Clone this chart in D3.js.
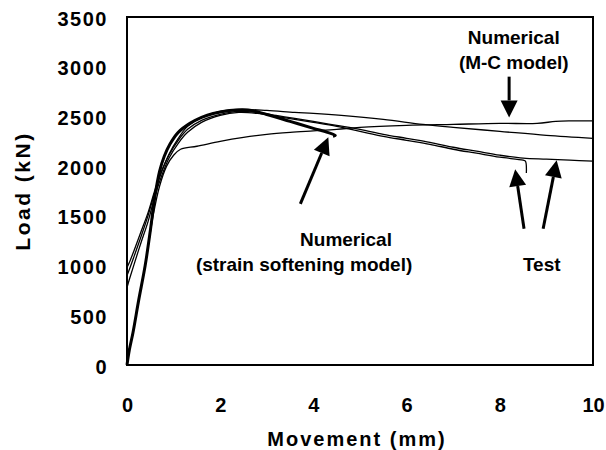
<!DOCTYPE html>
<html>
<head>
<meta charset="utf-8">
<script src="https://cdn.jsdelivr.net/npm/d3@7"></script>
<style>
  html, body { margin: 0; padding: 0; background: #fff; }
  svg { display: block; }
  text { font-family: Arial, "Liberation Sans", Helvetica, sans-serif; font-weight: bold; fill: #000; }
</style>
</head>
<body>
<script>
// Load-movement curves: two tests, a third test trace and two numerical models
const movementTest1 = [0, 0.05, 0.15, 0.3, 0.45, 0.6, 0.75, 0.9, 1.1, 1.3, 1.6, 2.0, 2.4, 2.8, 3.2, 3.6, 4.0, 4.5, 5.0, 5.5, 6.0, 6.5, 7.0, 7.5, 8.0, 8.5, 8.55, 8.57];
const loadTest1     = [780, 860, 1010, 1230, 1440, 1700, 1910, 2080, 2230, 2340, 2440, 2510, 2540, 2530, 2500, 2470, 2440, 2400, 2350, 2300, 2260, 2220, 2170, 2130, 2090, 2060, 2050, 1930];

const movementTest2 = [0, 0.05, 0.15, 0.3, 0.45, 0.6, 0.75, 0.9, 1.1, 1.3, 1.6, 2.0, 2.4, 2.8, 3.2, 3.6, 4.0, 4.5, 5.0, 5.5, 6.0, 6.5, 7.0, 7.5, 8.0, 8.5, 9.0, 9.5, 10];
const loadTest2     = [980, 1030, 1150, 1340, 1530, 1760, 1960, 2110, 2260, 2370, 2460, 2520, 2550, 2540, 2510, 2480, 2450, 2410, 2370, 2320, 2280, 2240, 2190, 2150, 2110, 2080, 2070, 2060, 2050];

const movementTest3 = [0, 0.05, 0.15, 0.3, 0.45, 0.6, 0.75, 0.9, 1.1, 1.3, 1.6, 2.0, 2.4, 3.0, 3.6, 4.0, 4.6, 5.5, 6.35, 7.0, 8.0, 9.0, 10];
const loadTest3     = [900, 960, 1090, 1290, 1500, 1740, 1950, 2120, 2280, 2400, 2490, 2550, 2570, 2560, 2540, 2530, 2510, 2470, 2420, 2390, 2350, 2310, 2280];

const movementMC = [0, 0.05, 0.13, 0.25, 0.39, 0.56, 0.7, 0.85, 1.0, 1.15, 1.5, 2.0, 2.5, 3.0, 3.5, 4.0, 4.5, 5.0, 6.0, 7.0, 8.0, 8.8, 9.2, 9.5, 10];
const loadMC     = [0, 150, 330, 650, 1000, 1500, 1800, 2000, 2110, 2170, 2200, 2250, 2290, 2320, 2340, 2355, 2370, 2390, 2410, 2420, 2430, 2430, 2450, 2455, 2455];

const movementSS = [0, 0.05, 0.13, 0.25, 0.39, 0.5, 0.6, 0.7, 0.8, 0.92, 1.1, 1.35, 1.6, 1.85, 2.2, 2.6, 3.0, 3.5, 4.0, 4.3, 4.47, 4.42];
const loadSS     = [0, 150, 330, 650, 1000, 1350, 1700, 1950, 2100, 2220, 2340, 2430, 2490, 2530, 2560, 2565, 2520, 2450, 2380, 2340, 2310, 2300];

const xTicks = [0, 2, 4, 6, 8, 10];
const yTicks = [0, 500, 1000, 1500, 2000, 2500, 3000, 3500];

const width = 606, height = 450;
const plot = { left: 127, right: 593, top: 17, bottom: 365 };

const svg = d3.select("body").append("svg")
  .attr("width", width).attr("height", height);

const x = d3.scaleLinear().domain([0, 10]).range([plot.left, plot.right]);
const y = d3.scaleLinear().domain([0, 3500]).range([plot.bottom, plot.top]);

// Axes: labels only, the frame is drawn separately
const xAxis = svg.append("g")
  .attr("transform", `translate(0,${plot.bottom})`)
  .call(d3.axisBottom(x).tickValues(xTicks).tickSize(0).tickPadding(28).tickFormat(d3.format("d")));
xAxis.select(".domain").remove();
xAxis.selectAll("text")
  .style("font-size", "20px").style("font-family", "Arial, 'Liberation Sans', sans-serif")
  .style("font-weight", "bold").attr("fill", "#000")
  .attr("dy", "0.35em").attr("y", 40);

const yAxis = svg.append("g")
  .attr("transform", `translate(${plot.left},0)`)
  .call(d3.axisLeft(y).tickValues(yTicks).tickSize(0).tickPadding(18).tickFormat(d3.format("d")));
yAxis.select(".domain").remove();
yAxis.selectAll("text")
  .style("font-size", "20px").style("font-family", "Arial, 'Liberation Sans', sans-serif")
  .style("font-weight", "bold").style("letter-spacing", "1.5px").attr("fill", "#000")
  .attr("x", -19).attr("dy", "0.4em");

svg.append("text")
  .attr("x", (plot.left + plot.right) / 2 - 3).attr("y", 446)
  .attr("text-anchor", "middle")
  .style("font-size", "20px").style("letter-spacing", "2px")
  .text("Movement (mm)");

svg.append("text")
  .attr("transform", `translate(30,${(plot.top + plot.bottom) / 2}) rotate(-90)`)
  .attr("text-anchor", "middle")
  .style("font-size", "21px").style("letter-spacing", "2.5px")
  .text("Load (kN)");

// Curves
const line = d3.line()
  .x(d => x(d[0])).y(d => y(d[1]))
  .curve(d3.curveCatmullRom.alpha(0.5));

const zip = (a, b) => a.map((v, i) => [v, b[i]]);

const curves = [
  { pts: zip(movementTest3, loadTest3), w: 1.3 },
  { pts: zip(movementTest1, loadTest1), w: 1.3 },
  { pts: zip(movementTest2, loadTest2), w: 1.3 },
  { pts: zip(movementMC, loadMC), w: 1.3 },
  { pts: zip(movementSS, loadSS), w: 3 }
];

svg.append("g").selectAll("path")
  .data(curves).join("path")
  .attr("d", d => line(d.pts))
  .attr("fill", "none")
  .attr("stroke", "#000")
  .attr("stroke-width", d => d.w)
  .attr("stroke-linejoin", "round");

// Frame
svg.append("rect")
  .attr("x", plot.left).attr("y", plot.top)
  .attr("width", plot.right - plot.left).attr("height", plot.bottom - plot.top)
  .attr("fill", "none").attr("stroke", "#000").attr("stroke-width", 2);

// Annotation arrows (tail and tip in data units)
const arrows = [
  { from: [8.2, 2900], to: [8.2, 2490] },
  { from: [3.72, 1620], to: [4.32, 2290] },
  { from: [8.52, 1370], to: [8.33, 1970] },
  { from: [8.93, 1370], to: [9.22, 2060] }
];

function arrow(g, a) {
  const x1 = x(a.from[0]), y1 = y(a.from[1]);
  const x2 = x(a.to[0]), y2 = y(a.to[1]);
  const ang = Math.atan2(y2 - y1, x2 - x1);
  const len = 17, half = 8.5;
  const bx = x2 - len * Math.cos(ang), by = y2 - len * Math.sin(ang);
  g.append("line")
    .attr("x1", x1).attr("y1", y1).attr("x2", bx).attr("y2", by)
    .attr("stroke", "#000").attr("stroke-width", 3);
  const px = -Math.sin(ang), py = Math.cos(ang);
  g.append("path")
    .attr("d", `M${x2},${y2}L${bx + half * px},${by + half * py}L${bx - half * px},${by - half * py}Z`)
    .attr("fill", "#000");
}
const ag = svg.append("g");
arrows.forEach(a => arrow(ag, a));

// Annotation labels
const labels = [
  { text: "Numerical", at: [8.3, 3230] },
  { text: "(M-C model)", at: [8.3, 2980] },
  { text: "Numerical", at: [4.7, 1200] },
  { text: "(strain softening model)", at: [3.8, 950] },
  { text: "Test", at: [8.9, 950] }
];
svg.append("g").selectAll("text")
  .data(labels).join("text")
  .attr("x", d => x(d.at[0])).attr("y", d => y(d.at[1]))
  .attr("text-anchor", "middle")
  .style("font-size", "19px")
  .text(d => d.text);
</script>
</body>
</html>
